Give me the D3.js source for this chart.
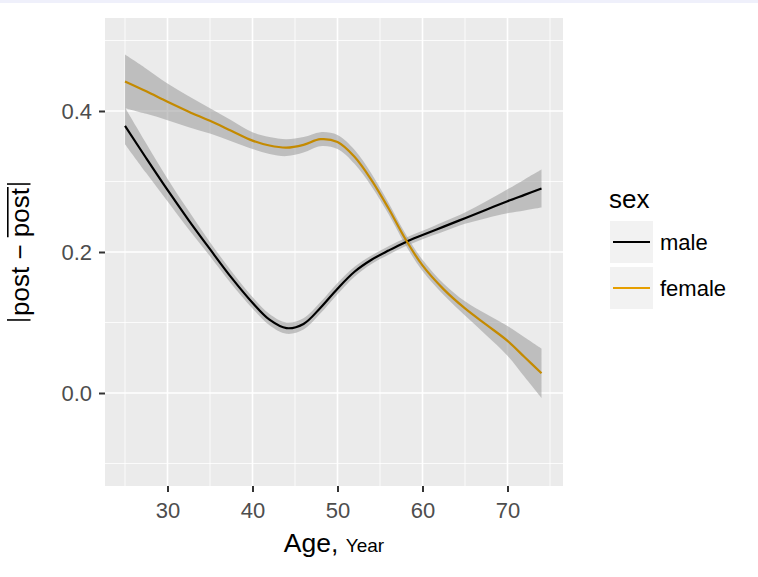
<!DOCTYPE html>
<html>
<head>
<meta charset="utf-8">
<script src="https://cdn.jsdelivr.net/npm/d3@7"></script>
<style>
  body { margin: 0; background: #fff; }
  text { font-family: "Liberation Sans", Arial, Helvetica, sans-serif; }
</style>
</head>
<body>
<svg id="chart" width="758" height="577"></svg>
<script>
const ages      = [25, 27.5, 30, 32.5, 35, 37.5, 40, 42, 44, 46, 48, 50, 52, 54, 56, 58, 60, 62.5, 65, 67.5, 70, 72, 74];
const maleFit   = [0.379, 0.333, 0.288, 0.245, 0.204, 0.164, 0.128, 0.104, 0.092, 0.098, 0.121, 0.148, 0.172, 0.189, 0.202, 0.214, 0.224, 0.236, 0.248, 0.260, 0.272, 0.281, 0.290];
const maleSE    = [0.026, 0.021, 0.016, 0.013, 0.010, 0.009, 0.008, 0.008, 0.008, 0.008, 0.008, 0.008, 0.007, 0.006, 0.006, 0.006, 0.006, 0.007, 0.008, 0.012, 0.017, 0.022, 0.027];
const femaleFit = [0.442, 0.428, 0.413, 0.399, 0.386, 0.372, 0.358, 0.351, 0.348, 0.352, 0.360, 0.356, 0.335, 0.302, 0.262, 0.218, 0.181, 0.147, 0.120, 0.097, 0.074, 0.051, 0.028];
const femaleSE  = [0.038, 0.032, 0.026, 0.022, 0.018, 0.015, 0.012, 0.012, 0.012, 0.011, 0.010, 0.010, 0.010, 0.009, 0.008, 0.008, 0.008, 0.008, 0.010, 0.015, 0.021, 0.028, 0.035];
const xTicks = [30, 40, 50, 60, 70];
const xMinor = [25, 35, 45, 55, 65, 75];
const yTicks = [0.0, 0.2, 0.4];
const yMinor = [-0.1, 0.1, 0.3, 0.5];
const seriesNames = ["male", "female"];
const lineColors = {male: "#000000", female: "#C48A00"};
const keyColors = {male: "#000000", female: "#E69F00"};

const svg = d3.select("#chart");
svg.append("rect").attr("x", 0).attr("y", 0).attr("width", 758).attr("height", 3).attr("fill", "#eff0fb");

const P = {l: 105, t: 18, r: 563, b: 486};
const x = d3.scaleLinear().domain([22.647, 76.53]).range([P.l, P.r]);
const y = d3.scaleLinear().domain([-0.1319, 0.5319]).range([P.b, P.t]);

svg.append("rect").attr("x", P.l).attr("y", P.t).attr("width", P.r - P.l).attr("height", P.b - P.t).attr("fill", "#ebebeb");

const g = svg.append("g");
g.selectAll(".xminor").data(xMinor).join("line")
  .attr("x1", d => x(d)).attr("x2", d => x(d)).attr("y1", P.t).attr("y2", P.b)
  .attr("stroke", "#fff").attr("stroke-width", 0.8);
g.selectAll(".yminor").data(yMinor).join("line")
  .attr("y1", d => y(d)).attr("y2", d => y(d)).attr("x1", P.l).attr("x2", P.r)
  .attr("stroke", "#fff").attr("stroke-width", 0.8);
g.selectAll(".xmajor").data(xTicks).join("line")
  .attr("x1", d => x(d)).attr("x2", d => x(d)).attr("y1", P.t).attr("y2", P.b)
  .attr("stroke", "#fff").attr("stroke-width", 1.6);
g.selectAll(".ymajor").data(yTicks).join("line")
  .attr("y1", d => y(d)).attr("y2", d => y(d)).attr("x1", P.l).attr("x2", P.r)
  .attr("stroke", "#fff").attr("stroke-width", 1.6);

const data = {
  male: ages.map((a, i) => ({a, f: maleFit[i], lo: maleFit[i] - maleSE[i], hi: maleFit[i] + maleSE[i]})),
  female: ages.map((a, i) => ({a, f: femaleFit[i], lo: femaleFit[i] - femaleSE[i], hi: femaleFit[i] + femaleSE[i]}))
};

const area = d3.area().x(d => x(d.a)).y0(d => y(d.lo)).y1(d => y(d.hi)).curve(d3.curveCatmullRom.alpha(0.5));
const line = d3.line().x(d => x(d.a)).y(d => y(d.f)).curve(d3.curveCatmullRom.alpha(0.5));

seriesNames.forEach(s => {
  g.append("path").attr("d", area(data[s])).attr("fill", "#999999").attr("fill-opacity", 0.55);
});
seriesNames.forEach(s => {
  g.append("path").attr("d", line(data[s])).attr("fill", "none")
    .attr("stroke", lineColors[s]).attr("stroke-width", 2.2);
});

// axes
const xAxis = svg.append("g").attr("transform", `translate(0,${P.b})`)
  .call(d3.axisBottom(x).tickValues(xTicks).tickSize(6).tickPadding(10).tickFormat(d3.format("d")));
xAxis.select(".domain").remove();
xAxis.selectAll(".tick line").attr("stroke", "#333").attr("stroke-width", 2);
xAxis.selectAll(".tick text").attr("fill", "#4d4d4d").style("font-size", "22px");

const yAxis = svg.append("g").attr("transform", `translate(${P.l},0)`)
  .call(d3.axisLeft(y).tickValues(yTicks).tickSize(6).tickPadding(7).tickFormat(d3.format(".1f")));
yAxis.select(".domain").remove();
yAxis.selectAll(".tick line").attr("stroke", "#333").attr("stroke-width", 2);
yAxis.selectAll(".tick text").attr("fill", "#4d4d4d").style("font-size", "22px");

// x title
const xt = svg.append("text").attr("x", (P.l + P.r) / 2).attr("y", 552).attr("text-anchor", "middle").attr("fill", "#000");
xt.append("tspan").style("font-size", "26.5px").text("Age, ");
xt.append("tspan").style("font-size", "19px").text("Year");

// y title: |post − post̄|
const yg = svg.append("g").attr("transform", `translate(29,${(P.t + P.b) / 2}) rotate(-90)`);
const yt = yg.append("text").attr("text-anchor", "middle").attr("fill", "#000").style("font-size", "26px");
yt.append("tspan").text("post \u2212 ");
const ov = yt.append("tspan").text("post");
const totalW = yt.node().getComputedTextLength();
const ovW = ov.node().getComputedTextLength();
const half = totalW / 2;
const barTop = -22, barBot = 1.5;
yg.append("line").attr("x1", -half - 4).attr("x2", -half - 4).attr("y1", barTop).attr("y2", barBot).attr("stroke", "#000").attr("stroke-width", 1.6);
yg.append("line").attr("x1", half + 4).attr("x2", half + 4).attr("y1", barTop).attr("y2", barBot).attr("stroke", "#000").attr("stroke-width", 1.6);
yg.append("line").attr("x1", half - ovW).attr("x2", half + 1).attr("y1", barTop + 0.8).attr("y2", barTop + 0.8).attr("stroke", "#000").attr("stroke-width", 1.6);

// legend
svg.append("text").attr("x", 609).attr("y", 208).style("font-size", "26px").attr("fill", "#000").text("sex");
seriesNames.forEach((s, i) => {
  const cy = 242 + i * 46;
  svg.append("rect").attr("x", 610).attr("y", cy - 21).attr("width", 43).attr("height", 42).attr("fill", "#f2f2f2");
  svg.append("line").attr("x1", 613).attr("x2", 650).attr("y1", cy).attr("y2", cy)
    .attr("stroke", keyColors[s]).attr("stroke-width", 2.2);
  svg.append("text").attr("x", 660).attr("y", cy + 8).style("font-size", "22px").attr("fill", "#000").text(s);
});
</script>
</body>
</html>
